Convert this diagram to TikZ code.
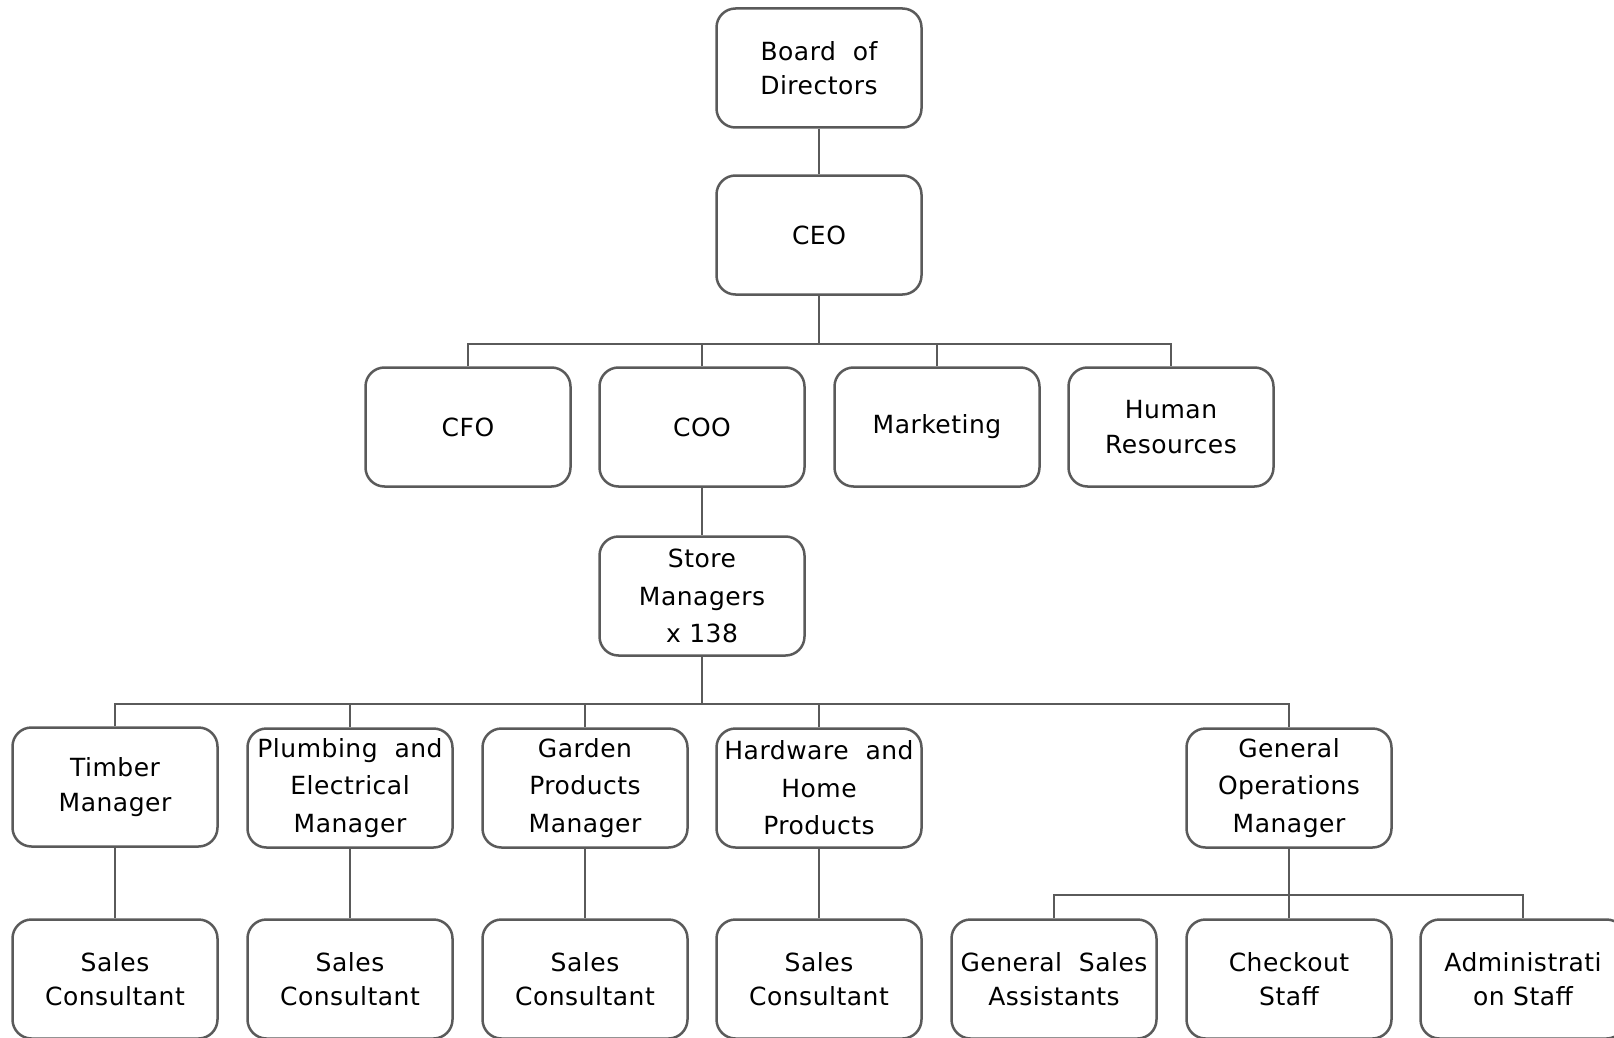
\documentclass[tikz,border=0pt]{standalone}
\usepackage{fontspec}
\setmainfont{DejaVu Sans}[LetterSpace=2]
\usepackage{tikz}
\usetikzlibrary{calc}
\definecolor{linegray}{HTML}{5A5A5A}

\begin{document}
\begin{tikzpicture}[x=1pt, y=-1pt,
  box/.style={draw=linegray, fill=white, line width=2.5pt, rounded corners=19pt,
    minimum width=205pt, minimum height=119pt, align=center, inner sep=2pt,
    font=\fontsize{25}{34.5}\selectfont},
  tall/.style={font=\fontsize{25}{37.5}\selectfont},
  link/.style={draw=linegray, line width=2.5pt}]
\useasboundingbox (0,0) rectangle (1614,1038);
% ---------------- top ----------------
\node[box] (board) at (819,68) {Board~~of\\Directors};
\node[box] (ceo) at (819,235) {CEO};
\draw[link] (board) -- (ceo);
% ---------------- executives ----------------
\coordinate (busA) at (0,344);
\node[box] (cfo) at (468,427) {CFO};
\node[box] (coo) at (702,427) {COO};
\node[box] (mkt) at (937,427) {Marketing};
\node[box] (hr) at (1171,427) {Human\\Resources};
\draw[link] (ceo.south) -- (ceo.south |- busA);
\draw[link] (cfo.north) -- (cfo.north |- busA) -- (hr.north |- busA) -- (hr.north);
\foreach \n in {coo,mkt}{
  \draw[link] (\n.north) -- (\n.north |- busA);}
% ---------------- stores ----------------
\node[box, tall] (store) at (702,596) {Store\\Managers\\x 138};
\draw[link] (coo) -- (store);
% ---------------- departments ----------------
\coordinate (busB) at (0,704);
\node[box] (timber) at (115,787) {Timber\\Manager};
\node[box, tall] (plumb) at (350,788) {Plumbing~~and\\Electrical\\Manager};
\node[box, tall] (garden) at (585,788) {Garden\\Products\\Manager};
\node[box, tall] (hware) at (819,788) {Hardware~~and\\Home\\Products};
\node[box, tall] (genops) at (1289,788) {General\\Operations\\Manager};
\draw[link] (store.south) -- (store.south |- busB);
\draw[link] (timber.north) -- (timber.north |- busB) -- (genops.north |- busB) -- (genops.north);
\foreach \n in {plumb,garden,hware}{
  \draw[link] (\n.north) -- (\n.north |- busB);}
% ---------------- sales staff ----------------
\foreach \n/\x in {timber/115,plumb/350,garden/585,hware/819}{
  \node[box] (sales-\n) at (\x,979) {Sales\\Consultant};
  \draw[link] (\n) -- (sales-\n);}
% ---------------- general operations staff ----------------
\coordinate (busC) at (0,895);
\node[box] (gsa) at (1054,979) {General~~Sales\\Assistants};
\node[box] (checkout) at (1289,979) {Checkout\\Staff};
\node[box] (admin) at (1523,979) {Administrati\\on Staff};
\draw[link] (genops.south) -- (genops.south |- busC);
\draw[link] (gsa.north) -- (gsa.north |- busC) -- (admin.north |- busC) -- (admin.north);
\draw[link] (checkout.north) -- (checkout.north |- busC);
\end{tikzpicture}
\end{document}
